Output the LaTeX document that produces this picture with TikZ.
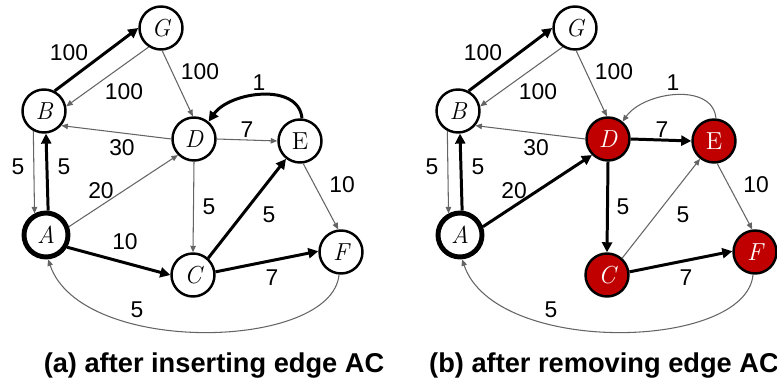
\documentclass[tikz,border=0pt]{standalone}
\usepackage{fontspec}
\newfontfamily\labelfont{Liberation Sans}
\usetikzlibrary{arrows.meta}

\definecolor{hotred}{RGB}{192,0,0}
\definecolor{edgegray}{RGB}{100,100,100}

\tikzset{
  vtx/.style={circle, draw=black, line width=1.4pt, minimum size=0.86cm,
    inner sep=0pt, fill=white, font=\fontsize{14}{16}\selectfont\itshape},
  srcvtx/.style={vtx, line width=2.8pt, minimum size=0.88cm},
  hotvtx/.style={vtx, fill=hotred, text=white},
  thinedge/.style={draw=edgegray, line width=0.6pt,
    -{Triangle[length=1.3mm,width=1.1mm]}},
  heavyedge/.style={draw=black, line width=1.7pt,
    -{Triangle[length=2mm,width=2mm]}},
  wt/.style={inner sep=0pt, font=\labelfont\fontsize{13}{15}\selectfont},
  caption/.style={inner sep=0pt, anchor=base,
    font=\labelfont\bfseries\fontsize{15.5}{18}\selectfont}
}

\begin{document}
\begin{tikzpicture}[x=0.02cm, y=-0.02cm]
\useasboundingbox (0,0) rectangle (777,381);

% ---------- (a) after inserting edge AC ----------
\begin{scope}[name prefix=a-]
  \node[vtx]    (G) at (161,28)  {G};
  \node[vtx]    (B) at (44,111)  {B};
  \node[vtx]    (D) at (194,139) {D};
  \node[vtx]    (E) at (300,141) {\upshape E};
  \node[srcvtx] (A) at (46,235)  {A};
  \node[vtx]    (C) at (193,275) {C};
  \node[vtx]    (F) at (341,252) {F};

  \draw[heavyedge] (B.62) -- (G.180);
  \draw[thinedge]  (G.237) -- (B.12);
  \draw[thinedge]  (G.-87) -- (D.93);
  \draw[heavyedge] (E.85) to[out=95,in=55] (D.50);
  \draw[thinedge]  (D.east) -- (E.west);
  \draw[thinedge]  (D.180) -- (B.-40);
  \draw[thinedge]  (B.242) -- (A.118);
  \draw[heavyedge] (A.85) -- (B.275);
  \draw[thinedge]  (A.20) -- (D.225);
  \draw[thinedge]  (D.south) -- (C.north);
  \draw[heavyedge] (C.48) -- (E.232);
  \draw[thinedge]  (E.-82) -- (F.97);
  \draw[heavyedge] (A.-30) -- (C.180);
  \draw[heavyedge] (C.8) -- (F.178);
  \draw[thinedge]  (F.-95) .. controls +(-7,76) and +(33,97) .. (A.-85);

  \node[wt] (wBG) at (69,53)   {100};
  \node[wt] (wGB) at (124,92)  {100};
  \node[wt] (wGD) at (200,72)  {100};
  \node[wt] (wED) at (259,83)  {1};
  \node[wt] (wDE) at (247,130) {7};
  \node[wt] (wDB) at (122,148) {30};
  \node[wt] (wBA) at (18,167)  {5};
  \node[wt] (wAB) at (64,167)  {5};
  \node[wt] (wAD) at (101,191) {20};
  \node[wt] (wDC) at (209,207) {5};
  \node[wt] (wCE) at (269,215) {5};
  \node[wt] (wEF) at (342,185) {10};
  \node[wt] (wAC) at (125,242) {10};
  \node[wt] (wCF) at (272,278) {7};
  \node[wt] (wFA) at (137,310) {5};

  \node[caption] (cap) at (214,372) {(a) after inserting edge AC};
\end{scope}

% ---------- (b) after removing edge AC ----------
\begin{scope}[shift={(414,0)}, name prefix=b-]
  \node[vtx]    (G) at (161,28)  {G};
  \node[vtx]    (B) at (44,111)  {B};
  \node[hotvtx] (D) at (194,139) {D};
  \node[hotvtx] (E) at (300,141) {\upshape E};
  \node[srcvtx] (A) at (46,235)  {A};
  \node[hotvtx] (C) at (193,275) {C};
  \node[hotvtx] (F) at (341,252) {F};

  \draw[heavyedge] (B.62) -- (G.180);
  \draw[thinedge]  (G.237) -- (B.12);
  \draw[thinedge]  (G.-87) -- (D.93);
  \draw[thinedge]  (E.85) to[out=95,in=55] (D.50);
  \draw[heavyedge] (D.east) -- (E.west);
  \draw[thinedge]  (D.180) -- (B.-40);
  \draw[thinedge]  (B.242) -- (A.118);
  \draw[heavyedge] (A.85) -- (B.275);
  \draw[heavyedge] (A.20) -- (D.225);
  \draw[heavyedge] (D.south) -- (C.north);
  \draw[thinedge]  (C.48) -- (E.232);
  \draw[thinedge]  (E.-82) -- (F.97);
  \draw[heavyedge] (C.8) -- (F.178);
  \draw[thinedge]  (F.-95) .. controls +(-7,76) and +(33,97) .. (A.-85);

  \node[wt] (wBG) at (69,53)   {100};
  \node[wt] (wGB) at (124,92)  {100};
  \node[wt] (wGD) at (200,72)  {100};
  \node[wt] (wED) at (259,83)  {1};
  \node[wt] (wDE) at (248,130) {7};
  \node[wt] (wDB) at (122,148) {30};
  \node[wt] (wBA) at (18,167)  {5};
  \node[wt] (wAB) at (64,167)  {5};
  \node[wt] (wAD) at (100,191) {20};
  \node[wt] (wDC) at (209,207) {5};
  \node[wt] (wCE) at (269,215) {5};
  \node[wt] (wEF) at (342,185) {10};
  \node[wt] (wCF) at (272,278) {7};
  \node[wt] (wFA) at (137,310) {5};

  \node[caption] (cap) at (190,372) {(b) after removing edge AC};
\end{scope}
\end{tikzpicture}
\end{document}
